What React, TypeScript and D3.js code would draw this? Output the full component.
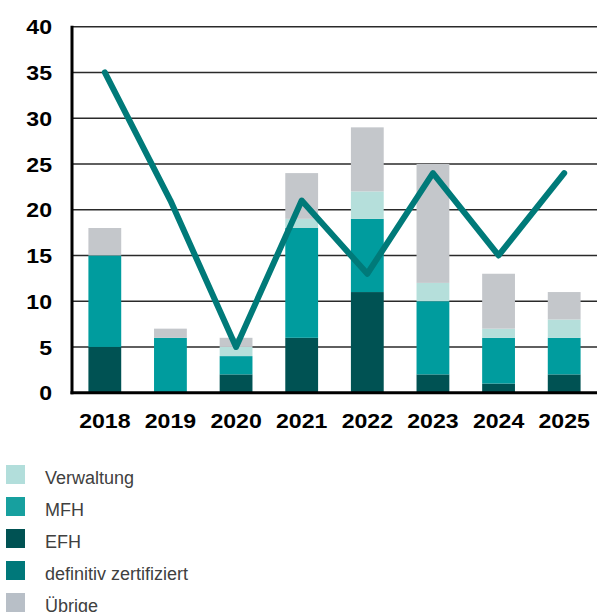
import React from "react";
import * as d3 from "d3";

const years = ["2018", "2019", "2020", "2021", "2022", "2023", "2024", "2025"];
const efh = [5, 0, 2, 6, 11, 2, 1, 2];
const mfh = [10, 6, 2, 12, 8, 8, 5, 4];
const verwaltung = [0, 0, 1, 1, 3, 2, 1, 2];
const uebrige = [3, 1, 1, 5, 7, 13, 6, 3];
const zertifiziert = [35, 21, 5, 21, 13, 24, 15, 24];
const yTicks = [0, 5, 10, 15, 20, 25, 30, 35, 40];

const seriesKeys = ["efh", "mfh", "verwaltung", "uebrige"];
const colors = {
  efh: "#005253",
  mfh: "#009c9e",
  verwaltung: "#b5dfdb",
  uebrige: "#c4c7cb",
  line: "#007a79",
};

const legendItems = [
  { label: "Verwaltung", color: "#b2dedb" },
  { label: "MFH", color: "#17a09f" },
  { label: "EFH", color: "#005253" },
  { label: "definitiv zertifiziert", color: "#00787a" },
  { label: "Übrige", color: "#b8bfc7" },
];

const W = 597;
const H = 612;
const left = 72;
const right = 597;
const top = 26.7;
const bottom = 392.7;

export default function App() {
  const rows = years.map((y, i) => ({
    year: y,
    efh: efh[i],
    mfh: mfh[i],
    verwaltung: verwaltung[i],
    uebrige: uebrige[i],
  }));

  const x = d3
    .scaleBand()
    .domain(years)
    .range([left, right])
    .paddingInner(0.5)
    .paddingOuter(0.25);
  const y = d3.scaleLinear().domain([0, 40]).range([bottom, top]);

  const stacked = d3.stack().keys(seriesKeys)(rows as any);

  const line = d3
    .line<number>()
    .x((_, i) => x(years[i])! + x.bandwidth() / 2)
    .y((d) => y(d));

  // tick labels are a bit wider than plain Arial bold
  const stretch = 1.1;

  return (
    <svg
      width={W}
      height={H}
      style={{ position: "absolute", left: 0, top: 0, display: "block" }}
      fontFamily="'Liberation Sans', Arial, sans-serif"
    >
      {/* grid */}
      {yTicks
        .filter((t) => t > 0)
        .map((t) => (
          <line
            key={t}
            x1={left}
            x2={right}
            y1={y(t)}
            y2={y(t)}
            stroke="#2a2a2a"
            strokeWidth={1.4}
          />
        ))}

      {/* bars */}
      {stacked.map((s) => (
        <g key={s.key} fill={(colors as any)[s.key]}>
          {s.map((d, i) =>
            d[1] - d[0] > 0 ? (
              <rect
                key={i}
                x={x(years[i])}
                width={x.bandwidth()}
                y={y(d[1])}
                height={y(d[0]) - y(d[1])}
              />
            ) : null
          )}
        </g>
      ))}

      {/* axes */}
      <line x1={left} x2={left} y1={top - 1} y2={bottom + 1.5} stroke="#000" strokeWidth={3} />
      <line x1={left - 1.5} x2={right} y1={bottom} y2={bottom} stroke="#000" strokeWidth={3} />

      {/* line */}
      <path
        d={line(zertifiziert)!}
        fill="none"
        stroke={colors.line}
        strokeWidth={6}
        strokeLinejoin="round"
        strokeLinecap="round"
      />

      {/* y ticks */}
      {yTicks.map((t) => (
        <text
          key={t}
          transform={`translate(52, ${y(t)}) scale(${stretch}, 1)`}
          dy="0.36em"
          textAnchor="end"
          fontSize={21}
          fontWeight="bold"
          fill="#000"
        >
          {t}
        </text>
      ))}

      {/* x ticks */}
      {years.map((yr) => (
        <text
          key={yr}
          transform={`translate(${x(yr)! + x.bandwidth() / 2}, 428) scale(${stretch}, 1)`}
          textAnchor="middle"
          fontSize={21}
          fontWeight="bold"
          fill="#000"
        >
          {yr}
        </text>
      ))}

      {/* legend */}
      {legendItems.map((it, i) => (
        <g key={it.label} transform={`translate(6, ${465 + i * 32})`}>
          <rect width={19} height={19} fill={it.color} />
          <text x={39} y={19} fontSize={18} fill="#404040">
            {it.label}
          </text>
        </g>
      ))}
    </svg>
  );
}
